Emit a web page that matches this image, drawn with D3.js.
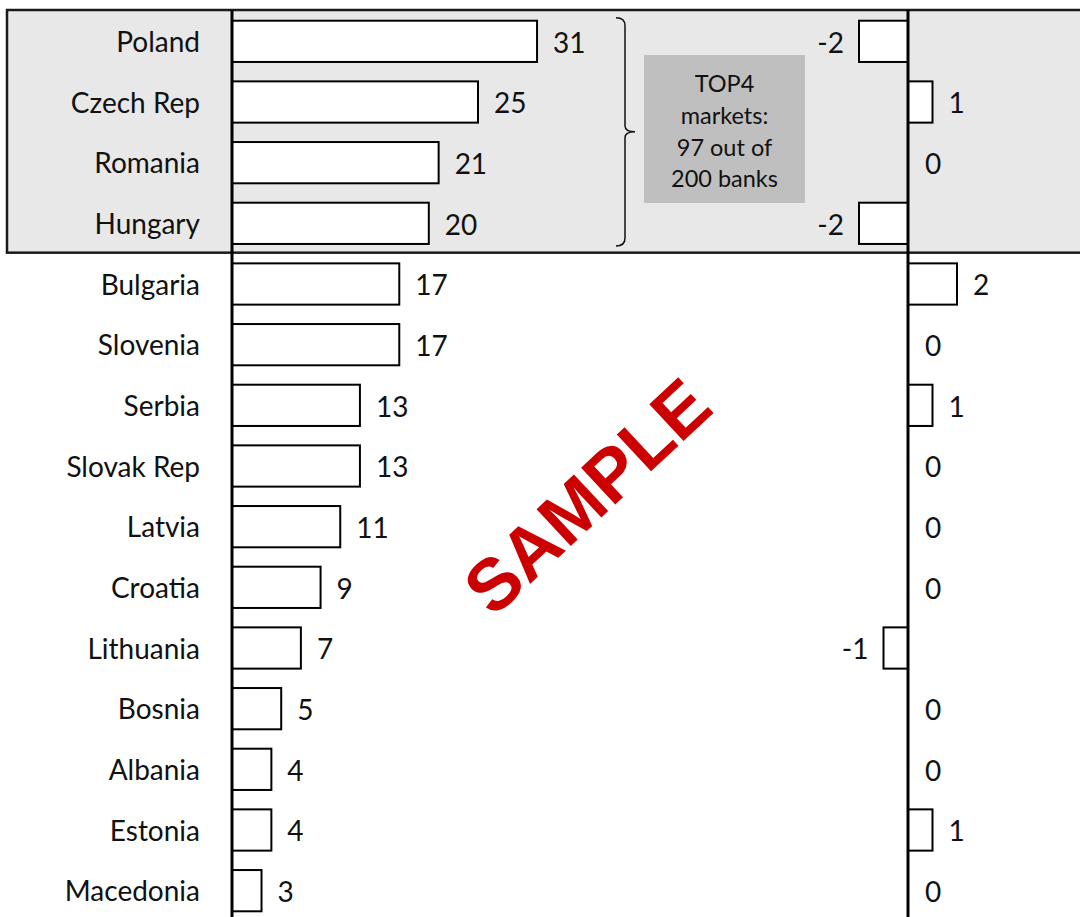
<!DOCTYPE html>
<html>
<head>
<meta charset="utf-8">
<script src="https://cdn.jsdelivr.net/npm/d3@7"></script>
<style>
  body { margin: 0; background: #fff; }
  svg { display: block; font-family: Lato, "Open Sans", sans-serif; }
</style>
</head>
<body>
<div id="chart"></div>
<script>
// data
const countries = ['Poland', 'Czech Rep', 'Romania', 'Hungary', 'Bulgaria', 'Slovenia', 'Serbia',
  'Slovak Rep', 'Latvia', 'Croatia', 'Lithuania', 'Bosnia', 'Albania', 'Estonia', 'Macedonia'];
const banks = [31, 25, 21, 20, 17, 17, 13, 13, 11, 9, 7, 5, 4, 4, 3];
const change = [-2, 1, 0, -2, 2, 0, 1, 0, 0, 0, -1, 0, 0, 1, 0];
const topGroup = ['Poland', 'Czech Rep', 'Romania', 'Hungary'];
const noteLines = ['TOP4', 'markets:', '97 out of', '200 banks'];

const data = countries.map((c, i) => ({ country: c, banks: banks[i], change: change[i] }));

// const
const width = 1080;
const height = 917;
const fontSize = 28;

// svg
const svg = d3.select('#chart')
  .append('svg')
  .attr('width', width)
  .attr('height', height);

// scales
const y = d3.scaleBand()
  .domain(countries)
  .range([11, 921])
  .paddingInner(0.32)
  .paddingOuter(0.16);

const x = d3.scaleLinear()
  .domain([0, 35])
  .range([232, 576.4]);

const xr = d3.scaleLinear()
  .domain([-2, 2])
  .range([859, 957]);

// grey highlight box for top 4
const boxTop = 10;
const boxBottom = y(topGroup[topGroup.length - 1]) + y.bandwidth() + y.step() * y.paddingInner() / 2 - 1;
svg.append('rect')
  .attr('x', 7)
  .attr('y', boxTop)
  .attr('width', width + 10)
  .attr('height', boxBottom - boxTop)
  .attr('fill', '#e8e8e8')
  .attr('stroke', '#1a1a1a')
  .attr('stroke-width', 2.5);

// category labels
svg.append('g')
  .attr('transform', `translate(${x(0)}, 0)`)
  .call(d3.axisLeft(y).tickSize(0).tickPadding(32))
  .call(g => g.select('.domain').remove())
  .call(g => g.selectAll('text')
    .attr('font-size', fontSize)
    .attr('dy', '0.38em')
    .attr('font-family', 'Lato, "Open Sans", sans-serif')
    .attr('fill', '#111'));

// left bars
svg.append('g')
  .selectAll('rect')
  .data(data)
  .join('rect')
  .attr('x', x(0))
  .attr('y', d => y(d.country))
  .attr('width', d => x(d.banks) - x(0))
  .attr('height', y.bandwidth())
  .attr('fill', '#fff')
  .attr('stroke', '#000')
  .attr('stroke-width', 2);

svg.append('g')
  .selectAll('text')
  .data(data)
  .join('text')
  .attr('x', d => x(d.banks) + 16)
  .attr('y', d => y(d.country) + y.bandwidth() / 2)
  .attr('dy', '0.4em')
  .attr('font-size', fontSize)
  .attr('fill', '#111')
  .text(d => d.banks);

// right bars (change)
svg.append('g')
  .selectAll('rect')
  .data(data.filter(d => d.change !== 0))
  .join('rect')
  .attr('x', d => Math.min(xr(d.change), xr(0)))
  .attr('y', d => y(d.country))
  .attr('width', d => Math.abs(xr(d.change) - xr(0)))
  .attr('height', y.bandwidth())
  .attr('fill', '#fff')
  .attr('stroke', '#000')
  .attr('stroke-width', 2);

svg.append('g')
  .selectAll('text')
  .data(data)
  .join('text')
  .attr('x', d => d.change < 0 ? xr(d.change) - 15 : d.change > 0 ? xr(d.change) + 16 : xr(0) + 17)
  .attr('y', d => y(d.country) + y.bandwidth() / 2)
  .attr('dy', '0.4em')
  .attr('text-anchor', d => d.change < 0 ? 'end' : 'start')
  .attr('font-size', fontSize)
  .attr('fill', '#111')
  .text(d => d.change);

// vertical axis lines
svg.append('line')
  .attr('x1', x(0)).attr('x2', x(0))
  .attr('y1', boxTop).attr('y2', height)
  .attr('stroke', '#000').attr('stroke-width', 3);
svg.append('line')
  .attr('x1', xr(0)).attr('x2', xr(0))
  .attr('y1', boxTop).attr('y2', height)
  .attr('stroke', '#000').attr('stroke-width', 3);

// brace
const bTop = y(topGroup[0]) - 3;
const bBot = y(topGroup[3]) + y.bandwidth() + 2;
const bMid = (bTop + bBot) / 2;
const bx = 625;
svg.append('path')
  .attr('d', `M${bx - 9},${bTop} Q${bx},${bTop} ${bx},${bTop + 8} L${bx},${bMid - 6} Q${bx},${bMid} ${bx + 10},${bMid}
    Q${bx},${bMid} ${bx},${bMid + 6} L${bx},${bBot - 8} Q${bx},${bBot} ${bx - 9},${bBot}`)
  .attr('fill', 'none')
  .attr('stroke', '#111')
  .attr('stroke-width', 1.5);

// note box
svg.append('rect')
  .attr('x', 644).attr('y', 55)
  .attr('width', 161).attr('height', 148)
  .attr('fill', '#bfbfbf');

svg.append('g')
  .selectAll('text')
  .data(noteLines)
  .join('text')
  .attr('x', 724.5)
  .attr('y', (d, i) => 83 + i * 31.8)
  .attr('dy', '0.38em')
  .attr('text-anchor', 'middle')
  .attr('font-size', 23.5)
  .attr('fill', '#111')
  .text(d => d);

// watermark
svg.append('text')
  .attr('transform', 'translate(587,496) rotate(-43)')
  .attr('text-anchor', 'middle')
  .attr('dominant-baseline', 'central')
  .attr('font-family', '"Liberation Sans", Arial, sans-serif')
  .attr('font-weight', 'bold')
  .attr('font-size', 73)
  .attr('fill', '#cc0000')
  .text('SAMPLE');
</script>
</body>
</html>
